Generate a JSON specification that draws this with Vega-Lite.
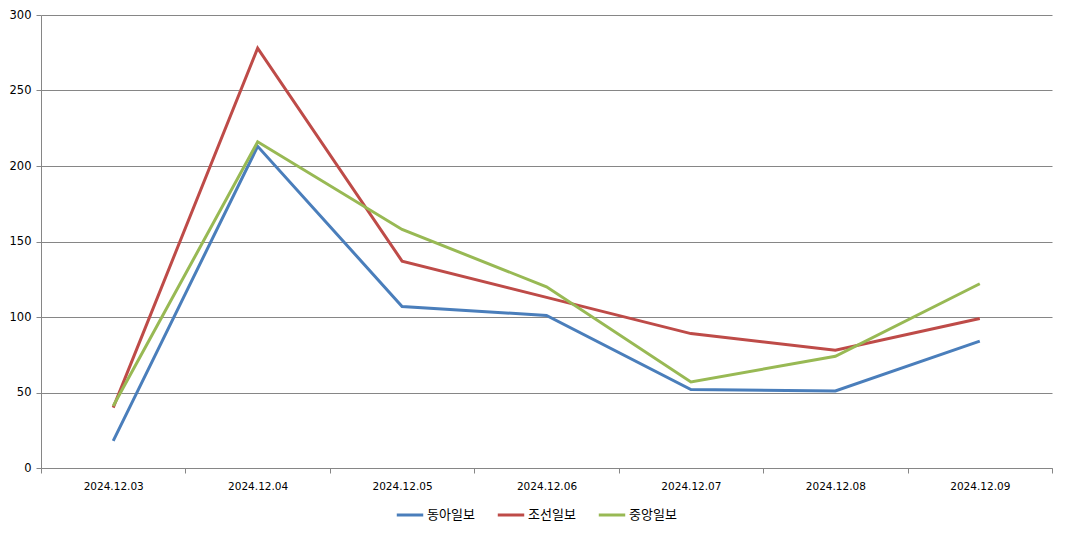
{
  "$schema": "https://vega.github.io/schema/vega-lite/v6.json",
  "width": 1011,
  "height": 453,
  "autosize": {"type": "none"},
  "padding": {"left": 41, "top": 15, "right": 15, "bottom": 66},
  "background": "white",
  "data": {
    "values": [
      {"date": "2024.12.03", "paper": "동아일보", "count": 18},
      {"date": "2024.12.04", "paper": "동아일보", "count": 213},
      {"date": "2024.12.05", "paper": "동아일보", "count": 107},
      {"date": "2024.12.06", "paper": "동아일보", "count": 101},
      {"date": "2024.12.07", "paper": "동아일보", "count": 52},
      {"date": "2024.12.08", "paper": "동아일보", "count": 51},
      {"date": "2024.12.09", "paper": "동아일보", "count": 84},
      {"date": "2024.12.03", "paper": "조선일보", "count": 40},
      {"date": "2024.12.04", "paper": "조선일보", "count": 278},
      {"date": "2024.12.05", "paper": "조선일보", "count": 137},
      {"date": "2024.12.06", "paper": "조선일보", "count": 113},
      {"date": "2024.12.07", "paper": "조선일보", "count": 89},
      {"date": "2024.12.08", "paper": "조선일보", "count": 78},
      {"date": "2024.12.09", "paper": "조선일보", "count": 99},
      {"date": "2024.12.03", "paper": "중앙일보", "count": 41},
      {"date": "2024.12.04", "paper": "중앙일보", "count": 216},
      {"date": "2024.12.05", "paper": "중앙일보", "count": 158},
      {"date": "2024.12.06", "paper": "중앙일보", "count": 120},
      {"date": "2024.12.07", "paper": "중앙일보", "count": 57},
      {"date": "2024.12.08", "paper": "중앙일보", "count": 74},
      {"date": "2024.12.09", "paper": "중앙일보", "count": 122}
    ]
  },
  "mark": {"type": "line", "strokeWidth": 3},
  "encoding": {
    "x": {
      "field": "date",
      "type": "ordinal",
      "bandPosition": 0.5,
      "scale": {"type": "band", "paddingInner": 0, "paddingOuter": 0},
      "title": null,
      "axis": {
        "labelAngle": 0,
        "tickBand": "extent",
        "grid": false,
        "tickSize": 5,
        "labelPadding": 8,
        "labelFontSize": 10.5
      }
    },
    "y": {
      "field": "count",
      "type": "quantitative",
      "scale": {"domain": [0, 300]},
      "title": null,
      "axis": {
        "values": [0, 50, 100, 150, 200, 250, 300],
        "grid": true,
        "tickSize": 5,
        "labelPadding": 5,
        "labelFontSize": 11.5
      }
    },
    "color": {
      "field": "paper",
      "type": "nominal",
      "scale": {
        "domain": ["동아일보", "조선일보", "중앙일보"],
        "range": ["#4a7ebb", "#be4b48", "#98b954"]
      },
      "title": null,
      "legend": {
        "orient": "none",
        "direction": "horizontal",
        "legendX": 354,
        "legendY": 485,
        "symbolType": "stroke",
        "symbolSize": 700,
        "symbolStrokeWidth": 3,
        "labelFontSize": 13,
        "labelFont": "Noto Sans CJK KR",
        "labelOffset": 2,
        "columnPadding": 16,
        "padding": 0
      }
    }
  },
  "config": {
    "view": {"stroke": null},
    "font": "DejaVu Sans",
    "axis": {
      "domainColor": "#868686",
      "tickColor": "#868686",
      "gridColor": "#868686",
      "gridOpacity": 1,
      "labelColor": "#000000",
      "labelFont": "DejaVu Sans"
    },
    "legend": {"labelColor": "#000000"}
  }
}
